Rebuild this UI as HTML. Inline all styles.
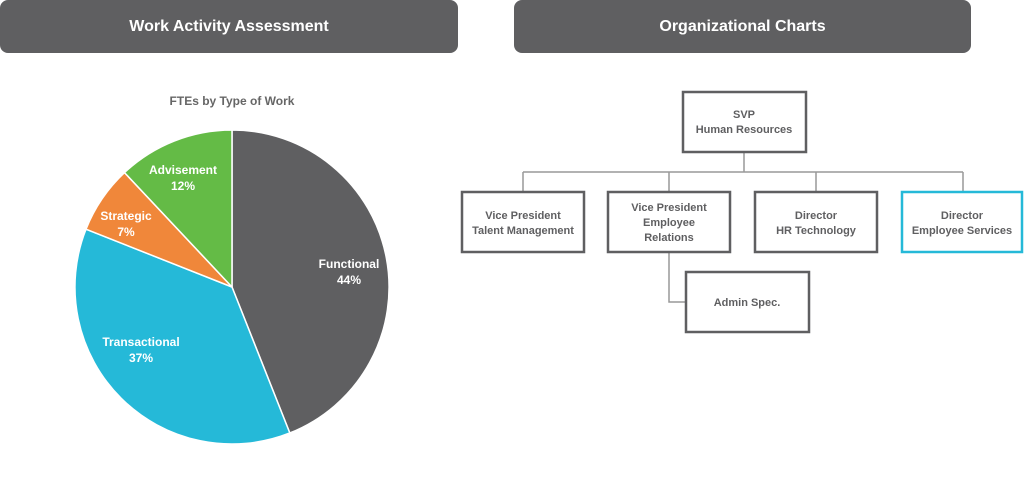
<!DOCTYPE html>
<html><head><style>
body{margin:0;width:1024px;height:479px;background:#fff;font-family:"Liberation Sans",Arial,sans-serif;overflow:hidden;position:relative}
.hdr{position:absolute;top:0;height:53px;background:#5f5f61;border-radius:8px;color:#fff;font-weight:bold;font-size:16px;line-height:53px;text-align:center}
</style></head><body>
<div class="hdr" style="left:0;width:458px">Work Activity Assessment</div>
<div class="hdr" style="left:514px;width:457px">Organizational Charts</div>
<svg width="1024" height="479" style="position:absolute;left:0;top:0" font-family="Liberation Sans, Arial, sans-serif" font-weight="bold">
<text x="232" y="105" text-anchor="middle" font-size="12" fill="#666">FTEs by Type of Work</text>
<g stroke="#fff" stroke-width="1.5">
<path d="M232,287 L232,130 A157,157 0 0 1 289.8,433 Z" fill="#5f5f61"/>
<path d="M232,287 L289.8,433 A157,157 0 0 1 86,229.2 Z" fill="#25b9d8"/>
<path d="M232,287 L86,229.2 A157,157 0 0 1 124.5,172.6 Z" fill="#f0873a"/>
<path d="M232,287 L124.5,172.6 A157,157 0 0 1 232,130 Z" fill="#64bb46"/>
</g>
<g fill="#fff" font-size="12" text-anchor="middle">
<text x="349" y="268">Functional</text><text x="349" y="284">44%</text>
<text x="141" y="346">Transactional</text><text x="141" y="362">37%</text>
<text x="126" y="220">Strategic</text><text x="126" y="236">7%</text>
<text x="183" y="174">Advisement</text><text x="183" y="190">12%</text>
</g>
<g stroke="#999" stroke-width="1.5" fill="none">
<path d="M744,152 V172 M523,172 H963 M523,172 V192 M669,172 V192 M816,172 V192 M963,172 V192 M669,252 V302 H686"/>
</g>
<g stroke="#5f5f61" stroke-width="2.5" fill="#fff">
<rect x="683" y="92" width="123" height="60"/>
<rect x="462" y="192" width="122" height="60"/>
<rect x="608" y="192" width="122" height="60"/>
<rect x="755" y="192" width="122" height="60"/>
<rect x="686" y="272" width="123" height="60"/>
</g>
<rect x="902" y="192" width="120" height="60" fill="#fff" stroke="#25b9d8" stroke-width="2.5"/>
<g fill="#5f5f61" font-size="11" text-anchor="middle">
<text x="744" y="118">SVP</text><text x="744" y="133">Human Resources</text>
<text x="523" y="219">Vice President</text><text x="523" y="234">Talent Management</text>
<text x="669" y="211">Vice President</text><text x="669" y="226">Employee</text><text x="669" y="241">Relations</text>
<text x="816" y="219">Director</text><text x="816" y="234">HR Technology</text>
<text x="962" y="219">Director</text><text x="962" y="234">Employee Services</text>
<text x="747" y="306">Admin Spec.</text>
</g>
</svg>
</body></html>
